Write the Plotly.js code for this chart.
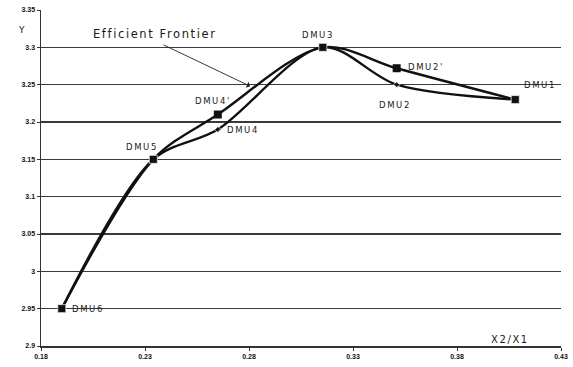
<!DOCTYPE html>
<html><head><meta charset="utf-8">
<script src="https://cdn.plot.ly/plotly-3.0.1.min.js"></script>
<style>
body{margin:0;background:#fff}
.annotation-text{letter-spacing:1.6px}
</style>
</head><body>
<div id="chart" style="width:573px;height:367px"></div>
<script>
// Curve through DMU4' and DMU2' (squares)
var namesA = ["DMU6","DMU5","DMU4'","DMU3","DMU2'","DMU1"];
var xA = [0.19, 0.234, 0.265, 0.3155, 0.351, 0.408];
var yA = [2.95, 3.15, 3.21, 3.30, 3.272, 3.23];
// Curve through DMU4 and DMU2
var namesB = ["DMU6","DMU5","DMU4","DMU3","DMU2","DMU1"];
var xB = [0.19, 0.234, 0.265, 0.3155, 0.351, 0.408];
var yB = [2.95, 3.15, 3.19, 3.30, 3.25, 3.23];
var xTicks = [0.18, 0.23, 0.28, 0.33, 0.38, 0.43];
var yTicks = [2.9, 2.95, 3, 3.05, 3.1, 3.15, 3.2, 3.25, 3.3, 3.35];

var traceA = {x:xA, y:yA, mode:'lines+markers', line:{shape:'spline', smoothing:0.9, color:'#111', width:2.4},
  marker:{symbol:'square', size:8, color:'#111'}, hoverinfo:'none'};
var traceB = {x:xB, y:yB, mode:'lines+markers', line:{shape:'spline', smoothing:0.9, color:'#111', width:2.4},
  marker:{symbol:['square','square','diamond','square','diamond','square'], size:[8,8,5,8,5,8], color:'#111'}, hoverinfo:'none'};

var lf = {family:'DejaVu Sans, Liberation Sans', size:8.5, color:'#1a1a1a'};
function lab(x,y,t,xa,xs,ys){return {x:x,y:y,text:t,showarrow:false,xanchor:xa,yanchor:'middle',xshift:xs,yshift:ys,font:lf};}
var ann = [
  lab(xA[0],yA[0],namesA[0],'left',8,0),
  lab(xA[1],yA[1],namesA[1],'center',-11,12),
  lab(xA[2],yA[2],namesA[2],'center',-5,14),
  lab(xB[2],yB[2],namesB[2],'left',7,-1),
  lab(xA[3],yA[3],namesA[3],'center',-5,12),
  lab(xA[4],yA[4],namesA[4],'left',9,1),
  lab(xB[4],yB[4],namesB[4],'center',-2,-20),
  lab(xA[5],yA[5],namesA[5],'center',25,15),
  {xref:'paper',yref:'paper',x:0.219,y:0.93,text:'Efficient Frontier',showarrow:false,xanchor:'center',yanchor:'middle',
    font:{family:'DejaVu Sans, Liberation Sans',size:11.5,color:'#1a1a1a'}},
  {x:0.2805,y:3.248,ax:-88,ay:-42,text:'',showarrow:true,arrowhead:1,arrowsize:1.2,arrowwidth:0.9,arrowcolor:'#222'},
  {xref:'paper',yref:'paper',x:-0.0365,y:0.94,text:'Y',showarrow:false,xanchor:'center',yanchor:'middle',
    font:{family:'DejaVu Sans, Liberation Sans',size:9,color:'#1a1a1a'}},
  {xref:'paper',yref:'paper',x:0.902,y:0.02,text:'X2/X1',showarrow:false,xanchor:'center',yanchor:'middle',
    font:{family:'DejaVu Sans, Liberation Sans',size:10,color:'#1a1a1a'}}
];

var tf = {family:'Liberation Sans, Arial', size:7, color:'#111', weight:'bold'};
var layout = {
  width:573, height:367, margin:{l:41,r:12,t:10,b:21},
  paper_bgcolor:'#fff', plot_bgcolor:'#fff', showlegend:false,
  xaxis:{range:[0.18,0.43], tickvals:xTicks, ticktext:xTicks.map(String), showgrid:false, zeroline:false,
    showline:true, linecolor:'#333', linewidth:1.5, ticks:'outside', ticklen:3, tickcolor:'#333', tickfont:tf},
  yaxis:{range:[2.9,3.35], tickvals:yTicks, ticktext:yTicks.map(String), showgrid:true, gridcolor:'#3a3a3a', gridwidth:1.4,
    zeroline:false, showline:true, linecolor:'#333', linewidth:1.5, ticks:'outside', ticklen:3, tickcolor:'#333', tickfont:tf},
  annotations:ann
};
Plotly.newPlot('chart',[traceA,traceB],layout,{displayModeBar:false,staticPlot:true});
</script>
</body></html>
